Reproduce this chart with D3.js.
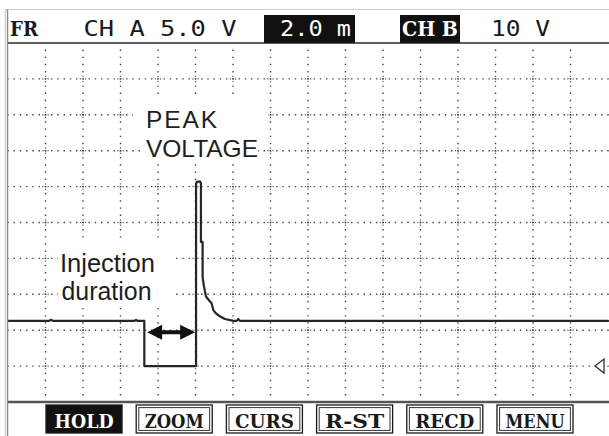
<!DOCTYPE html>
<html><head><meta charset="utf-8">
<script src="https://cdn.jsdelivr.net/npm/d3@7"></script>
<style>html,body{margin:0;padding:0;background:#fff;overflow:hidden}</style>
</head><body><svg id="scope" width="609" height="436"></svg>
<script>
// Channel A: injector voltage, 2.0 ms/div and 5.0 V/div
const timeMs = [0, 2.2, 2.3, 2.4, 6.75, 6.83, 6.9, 7.27, 7.27, 10.03, 10.03, 10.08, 10.25, 10.29, 10.29, 10.38, 10.38, 10.45, 10.56, 10.74, 10.86, 10.95, 11.09, 11.27, 11.57, 12.02, 12.2, 12.28, 12.37, 32];
const voltsA = [6.3, 6.3, 6.45, 6.3, 6.3, 6.45, 6.3, 6.3, 0, 0, 25.4, 25.7, 25.7, 25.4, 17.3, 17.3, 12.4, 11.1, 9.7, 9.1, 8.75, 7.8, 7.35, 6.98, 6.56, 6.3, 6.3, 6.56, 6.3, 6.3];

// screen divisions
const timeTicks = d3.range(2, 32, 2);        // ms
const voltTicks = d3.range(0, 45, 5);        // V
const timeDomain = [0, 32];
const voltDomain = [-5, 45];

// injection-duration arrow (ms) and its level (V)
const arrowSpan = [7.42, 9.98];
const arrowLevel = 4.7;

// on-screen texts
const headerTexts = ["FR", "CH A 5.0 V", "2.0 m", "CH B", "10 V"];
const buttonLabels = ["HOLD", "ZOOM", "CURS", "R-ST", "RECD", "MENU"];
const peakLines = ["PEAK", "VOLTAGE"];
const durationLines = ["Injection", "duration"];

const svg = d3.select("#scope");
const x = d3.scaleLinear().domain(timeDomain).range([8, 608]);
const y = d3.scaleLinear().domain(voltDomain).range([402, 43]);

// ---- dotted graticule ----
const grid = svg.append("g");
grid.selectAll("line.h").data(voltTicks).join("line")
  .attr("x1", x(0) - 0.7).attr("x2", 609)
  .attr("y1", d => y(d)).attr("y2", d => y(d))
  .attr("stroke", "#444").attr("stroke-width", 1.4)
  .attr("stroke-dasharray", "1.4 4.85");
const vStep = (y(0) - y(5)) / 5;
grid.selectAll("line.v").data(timeTicks).join("line")
  .attr("x1", d => x(d)).attr("x2", d => x(d))
  .attr("y1", y(45) + vStep - 0.7).attr("y2", 402)
  .attr("stroke", "#444").attr("stroke-width", 1.4)
  .attr("stroke-dasharray", `1.4 ${vStep - 1.4}`);
// little diamonds where the dotted lines cross
const crossings = [];
timeTicks.forEach(t => voltTicks.forEach(v => crossings.push([t, v])));
grid.selectAll("g.cross").data(crossings).join("g")
  .attr("transform", d => `translate(${x(d[0])},${y(d[1])})`)
  .each(function () {
    d3.select(this).selectAll("rect").data([[-2.6, 0], [2.6, 0], [0, -2.6], [0, 2.6]]).join("rect")
      .attr("x", p => p[0] - 0.6).attr("y", p => p[1] - 0.6)
      .attr("width", 1.2).attr("height", 1.2).attr("fill", "#555");
  });

// ---- annotation backgrounds and texts ----
const ann = svg.append("g").attr("font-family", "'Liberation Sans', Arial, sans-serif").attr("fill", "#1e1e1e");
ann.append("rect").attr("x", 133).attr("y", 99).attr("width", 135).attr("height", 34).attr("fill", "#fff");
ann.append("rect").attr("x", 143).attr("y", 133).attr("width", 115).attr("height", 28).attr("fill", "#fff");
ann.append("rect").attr("x", 58).attr("y", 241).attr("width", 114).attr("height", 65).attr("fill", "#fff");

ann.selectAll("text.peak").data(peakLines).join("text")
  .attr("x", 146).attr("y", (d, i) => 128.3 + i * 28.3)
  .attr("font-size", 24.5)
  .attr("textLength", (d, i) => i === 0 ? 71 : 112)
  .attr("lengthAdjust", "spacing")
  .text(d => d);
ann.selectAll("text.dur").data(durationLines).join("text")
  .attr("x", (d, i) => i === 0 ? 60 : 61.5).attr("y", (d, i) => 271.7 + i * 28.3)
  .attr("font-size", 25)
  .attr("textLength", (d, i) => i === 0 ? 95 : 90)
  .attr("lengthAdjust", "spacingAndGlyphs")
  .text(d => d);

// ---- channel A trace ----
const pts = timeMs.map((t, i) => [t, voltsA[i]]);
svg.append("path").datum(pts)
  .attr("d", d3.line().x(d => x(d[0])).y(d => y(d[1])))
  .attr("fill", "none").attr("stroke", "#262626").attr("stroke-width", 2.2)
  .attr("stroke-linejoin", "round").attr("stroke-linecap", "round");

// ---- double-headed arrow ----
const ax0 = x(arrowSpan[0]), ax1 = x(arrowSpan[1]), ay = y(arrowLevel);
const head = 15, half = 7.5, shaft = 2;
svg.append("path")
  .attr("d", `M${ax0},${ay} L${ax0 + head},${ay - half} L${ax0 + head},${ay - shaft} L${ax1 - head},${ay - shaft} L${ax1 - head},${ay - half} L${ax1},${ay} L${ax1 - head},${ay + half} L${ax1 - head},${ay + shaft} L${ax0 + head},${ay + shaft} L${ax0 + head},${ay + half} Z`)
  .attr("fill", "#111");

// ---- ground reference marker ----
const gy = y(0);
svg.append("path")
  .attr("d", `M595,${gy} L604,${gy - 7} L604,${gy + 7} Z`)
  .attr("fill", "#fff").attr("stroke", "#333").attr("stroke-width", 1.3);

// ---- frame ----
svg.append("line").attr("x1", 5).attr("x2", 609).attr("y1", 9.5).attr("y2", 9.5).attr("stroke", "#cfcfcf").attr("stroke-width", 1.2);
svg.append("line").attr("x1", 5.5).attr("x2", 5.5).attr("y1", 9).attr("y2", 436).attr("stroke", "#cdcdcd").attr("stroke-width", 1.5);
svg.append("line").attr("x1", 7.6).attr("x2", 7.6).attr("y1", 9).attr("y2", 436).attr("stroke", "#8a8a8a").attr("stroke-width", 1.3);
svg.append("line").attr("x1", 8).attr("x2", 609).attr("y1", y(45)).attr("y2", y(45)).attr("stroke", "#2a2a2a").attr("stroke-width", 1.6);
svg.append("line").attr("x1", 8).attr("x2", 609).attr("y1", y(-5)).attr("y2", y(-5)).attr("stroke", "#555").attr("stroke-width", 2.6);

// ---- header ----
const hdr = svg.append("g");
const mono = "'DejaVu Sans Mono', 'Liberation Mono', monospace";
const serif = "'DejaVu Serif', 'Liberation Serif', serif";
hdr.append("rect").attr("x", 264).attr("y", 15).attr("width", 91).attr("height", 28).attr("fill", "#111");
hdr.append("rect").attr("x", 400).attr("y", 15).attr("width", 60).attr("height", 28).attr("fill", "#111");
const hdrSpec = [
  {x: 10, w: 28, font: serif, weight: "bold", fill: "#1a1a1a"},
  {x: 83.5, w: 153, font: mono, weight: "normal", fill: "#1a1a1a"},
  {x: 280, w: 71, font: mono, weight: "normal", fill: "#fff"},
  {x: 402, w: 56, font: serif, weight: "bold", fill: "#fff"},
  {x: 491, w: 59, font: mono, weight: "normal", fill: "#1a1a1a"}
];
hdr.selectAll("text").data(headerTexts).join("text")
  .attr("x", (d, i) => hdrSpec[i].x).attr("y", 36)
  .attr("font-family", (d, i) => hdrSpec[i].font)
  .attr("font-weight", (d, i) => hdrSpec[i].weight)
  .attr("fill", (d, i) => hdrSpec[i].fill)
  .attr("font-size", 20.5)
  .attr("textLength", (d, i) => hdrSpec[i].w)
  .attr("lengthAdjust", "spacingAndGlyphs")
  .text(d => d);

// ---- soft-key row ----
const band = d3.scaleBand().domain(buttonLabels).range([46, 573]).paddingInner(0.157).paddingOuter(0);
const keys = svg.append("g").selectAll("g").data(buttonLabels).join("g")
  .attr("transform", d => `translate(${band(d)},405)`);
keys.append("rect").attr("width", band.bandwidth()).attr("height", 28)
  .attr("fill", (d, i) => i === 0 ? "#111" : "#fff")
  .attr("stroke", "#1a1a1a").attr("stroke-width", 1.3);
keys.filter((d, i) => i > 0).append("rect")
  .attr("x", 2.6).attr("y", 2.6).attr("width", band.bandwidth() - 5.2).attr("height", 28 - 5.2)
  .attr("fill", "none").attr("stroke", "#333").attr("stroke-width", 1);
keys.append("text")
  .attr("x", band.bandwidth() / 2).attr("y", 22.5)
  .attr("text-anchor", "middle")
  .attr("font-family", serif).attr("font-weight", "bold").attr("font-size", 18)
  .attr("fill", (d, i) => i === 0 ? "#fff" : "#1a1a1a")
  .attr("textLength", 59).attr("lengthAdjust", "spacingAndGlyphs")
  .text(d => d);
</script></body></html>
